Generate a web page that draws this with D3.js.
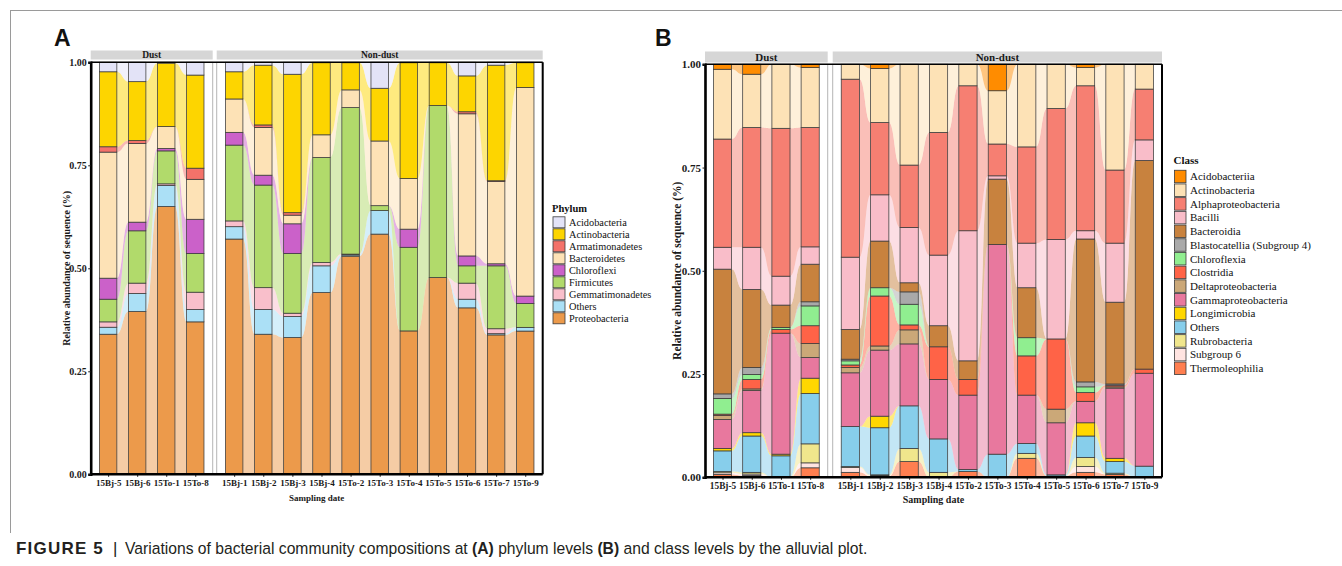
<!DOCTYPE html>
<html><head><meta charset="utf-8">
<script src="https://cdn.jsdelivr.net/npm/d3@7"></script>
<style>body{margin:0;background:#fff}</style>
</head><body>
<svg id="chart" width="1342" height="566"></svg>
<script>
// ---------------- DATA ----------------
const dustSamples = ["15Bj-5","15Bj-6","15To-1","15To-8"];
const nonDustSamples = ["15Bj-1","15Bj-2","15Bj-3","15Bj-4","15To-2","15To-3","15To-4","15To-5","15To-6","15To-7","15To-9"];
const facetNames = ["Dust","Non-dust"];
const yTicks = [0, 0.25, 0.5, 0.75, 1];

// Panel A: phylum level (sample order = dustSamples then nonDustSamples)
const phyla = ["Acidobacteria","Actinobacteria","Armatimonadetes","Bacteroidetes","Chloroflexi","Firmicutes","Gemmatimonadetes","Others","Proteobacteria"];
const phylumColors = ["#E3E3F7","#FDD500","#F4726A","#FDE2B6","#CB61C9","#B1DA6B","#F9BFCB","#ABE0F6","#EC9A4B"];
const acidobacteria    = [0.023,0.047,0.002,0.031, 0.023,0.007,0.029,0.001,0.001,0.063,0.001,0.001,0.033,0.007,0.001];
const actinobacteria   = [0.182,0.143,0.154,0.226, 0.066,0.145,0.336,0.175,0.066,0.128,0.281,0.104,0.087,0.281,0.060];
const armatimonadetes  = [0.013,0.007,0.000,0.027, 0.000,0.006,0.006,0.000,0.000,0.000,0.000,0.000,0.005,0.002,0.000];
const bacteroidetes    = [0.306,0.191,0.053,0.097, 0.081,0.116,0.021,0.055,0.043,0.157,0.123,0.000,0.345,0.200,0.507];
const chloroflexi      = [0.051,0.021,0.006,0.083, 0.031,0.024,0.072,0.000,0.000,0.000,0.044,0.000,0.024,0.005,0.018];
const firmicutes       = [0.055,0.127,0.080,0.094, 0.184,0.249,0.145,0.255,0.356,0.012,0.203,0.418,0.042,0.153,0.058];
const gemmatimonadetes = [0.013,0.025,0.004,0.042, 0.014,0.053,0.008,0.008,0.002,0.000,0.000,0.000,0.039,0.012,0.000];
const othersPhylum     = [0.017,0.044,0.051,0.030, 0.030,0.060,0.051,0.065,0.003,0.057,0.000,0.000,0.021,0.003,0.009];
const proteobacteria   = [0.340,0.395,0.650,0.370, 0.571,0.340,0.332,0.441,0.530,0.583,0.348,0.478,0.404,0.339,0.348];

// Panel B: class level
const classes = ["Acidobacteriia","Actinobacteria","Alphaproteobacteria","Bacilli","Bacteroidia","Blastocatellia (Subgroup 4)","Chloroflexia","Clostridia","Deltaproteobacteria","Gammaproteobacteria","Longimicrobia","Others","Rubrobacteria","Subgroup 6","Thermoleophilia"];
const classColors = ["#FF8C00","#FDE2B6","#F67F72","#F9BDC9","#C8823E","#A9A9A9","#90EE90","#FF6347","#CBA878","#E8789E","#FFD700","#87CEEB","#F0E68C","#FFE4E1","#FF7F50"];
const acidobacteriia      = [0.012,0.024,0.000,0.008, 0.000,0.010,0.000,0.000,0.000,0.064,0.000,0.000,0.008,0.000,0.000];
const actinobacteriaCls   = [0.169,0.129,0.155,0.145, 0.036,0.131,0.244,0.165,0.052,0.129,0.200,0.107,0.044,0.256,0.060];
const alphaproteobacteria = [0.262,0.290,0.358,0.289, 0.431,0.175,0.151,0.297,0.351,0.077,0.233,0.317,0.351,0.177,0.123];
const bacilli             = [0.053,0.102,0.070,0.042, 0.175,0.112,0.134,0.171,0.315,0.008,0.108,0.241,0.020,0.143,0.050];
const bacteroidia         = [0.302,0.189,0.054,0.091, 0.072,0.113,0.022,0.051,0.045,0.158,0.121,0.000,0.346,0.198,0.505];
const blastocatellia      = [0.011,0.017,0.000,0.010, 0.004,0.000,0.030,0.000,0.000,0.000,0.000,0.000,0.012,0.003,0.000];
const chloroflexia        = [0.038,0.012,0.005,0.048, 0.010,0.020,0.050,0.000,0.000,0.000,0.044,0.000,0.014,0.000,0.000];
const clostridia          = [0.003,0.023,0.009,0.043, 0.006,0.121,0.012,0.079,0.038,0.000,0.095,0.170,0.021,0.004,0.010];
const deltaproteobacteria = [0.010,0.004,0.000,0.034, 0.013,0.010,0.034,0.000,0.000,0.000,0.000,0.033,0.000,0.003,0.000];
const gammaproteobacteria = [0.070,0.102,0.293,0.050, 0.130,0.160,0.150,0.144,0.180,0.508,0.117,0.126,0.052,0.170,0.225];
const longimicrobia       = [0.006,0.008,0.004,0.037, 0.000,0.028,0.000,0.000,0.000,0.000,0.000,0.000,0.032,0.008,0.000];
const othersClass         = [0.050,0.088,0.052,0.122, 0.097,0.114,0.103,0.081,0.005,0.056,0.024,0.003,0.052,0.028,0.027];
const rubrobacteria       = [0.003,0.004,0.000,0.046, 0.002,0.002,0.032,0.012,0.000,0.000,0.012,0.000,0.022,0.003,0.000];
const subgroup6           = [0.004,0.004,0.000,0.012, 0.012,0.002,0.000,0.000,0.000,0.000,0.000,0.000,0.014,0.000,0.000];
const thermoleophilia     = [0.007,0.004,0.000,0.023, 0.012,0.002,0.038,0.000,0.014,0.000,0.046,0.003,0.012,0.007,0.000];

// ---------------- BUILD TABLES ----------------
const allSamples = dustSamples.concat(nonDustSamples);
const phylumSeries = [acidobacteria,actinobacteria,armatimonadetes,bacteroidetes,chloroflexi,firmicutes,gemmatimonadetes,othersPhylum,proteobacteria];
const classSeries = [acidobacteriia,actinobacteriaCls,alphaproteobacteria,bacilli,bacteroidia,blastocatellia,chloroflexia,clostridia,deltaproteobacteria,gammaproteobacteria,longimicrobia,othersClass,rubrobacteria,subgroup6,thermoleophilia];
function buildRows(keys, series) {
  return allSamples.map((s, i) => {
    const r = {sample: s, facet: i < dustSamples.length ? facetNames[0] : facetNames[1]};
    keys.forEach((k, j) => r[k] = series[j][i]);
    return r;
  });
}
const rowsA = buildRows(phyla, phylumSeries);
const rowsB = buildRows(classes, classSeries);

// ---------------- DRAW ----------------
const SERIF = "Liberation Serif, Times New Roman, serif";
const SANS = "Liberation Sans, Arial, sans-serif";
const svg = d3.select("#chart");

// figure frame
svg.append("line").attr("x1",10).attr("x2",1342).attr("y1",10.5).attr("y2",10.5).attr("stroke","#9a9a9a").attr("stroke-width",1);
svg.append("line").attr("x1",10.5).attr("x2",10.5).attr("y1",10).attr("y2",533).attr("stroke","#9a9a9a").attr("stroke-width",1);

function drawAlluvial(cfg) {
  const g = svg.append("g");
  const {keys, colors, rows, y, barFrac} = cfg;
  const color = d3.scaleOrdinal().domain(keys).range(colors);
  const stack = d3.stack().keys(keys.slice().reverse()).offset(d3.stackOffsetExpand);
  const top = y(1), bottom = y(0);

  cfg.facets.forEach(f => {
    const fRows = rows.filter(r => r.facet === f.name);
    const x = d3.scalePoint().domain(fRows.map(r => r.sample)).range([f.x0, f.x1]).padding(0.6);
    const bw = x.step() * barFrac;
    const series = stack(fRows);

    // strip
    g.append("rect").attr("x", f.x0).attr("y", cfg.stripTop).attr("width", f.x1 - f.x0)
      .attr("height", cfg.stripH).attr("fill", "#d6d6d6");
    g.append("text").attr("x", (f.x0 + f.x1) / 2).attr("y", cfg.stripTop + cfg.stripH / 2)
      .attr("dy", "0.35em").attr("text-anchor", "middle").style("font-family", SERIF)
      .attr("font-weight", "bold").attr("font-size", cfg.stripFont).attr("fill", "#1a1a1a").text(f.name);

    // panel border (thin grey)
    g.append("rect").attr("x", f.x0).attr("y", top).attr("width", f.x1 - f.x0).attr("height", bottom - top)
      .attr("fill", "none").attr("stroke", "#b5b5b5").attr("stroke-width", 1);

    // flows
    const flowG = g.append("g");
    series.forEach(s => {
      for (let i = 0; i < fRows.length - 1; i++) {
        const a = s[i], b = s[i + 1];
        if (a[1] - a[0] <= 0 && b[1] - b[0] <= 0) continue;
        const xa = x(fRows[i].sample) + bw / 2, xb = x(fRows[i + 1].sample) - bw / 2, xm = (xa + xb) / 2;
        const p = d3.path();
        p.moveTo(xa, y(a[1]));
        p.bezierCurveTo(xm, y(a[1]), xm, y(b[1]), xb, y(b[1]));
        p.lineTo(xb, y(b[0]));
        p.bezierCurveTo(xm, y(b[0]), xm, y(a[0]), xa, y(a[0]));
        p.closePath();
        flowG.append("path").attr("d", p.toString()).attr("fill", color(s.key)).attr("fill-opacity", 0.5);
      }
    });

    // strata (bars)
    const barG = g.append("g");
    series.forEach(s => {
      s.forEach((d, i) => {
        if (d[1] - d[0] <= 0) return;
        barG.append("rect").attr("x", x(fRows[i].sample) - bw / 2).attr("y", y(d[1]))
          .attr("width", bw).attr("height", y(d[0]) - y(d[1]))
          .attr("fill", color(s.key)).attr("stroke", "#3a3a3a").attr("stroke-width", 0.75);
      });
    });

    // x axis labels
    const ax = g.append("g").attr("transform", `translate(0,${bottom})`)
      .call(d3.axisBottom(x).tickSize(2.5).tickPadding(3));
    ax.select(".domain").remove();
    ax.attr("font-family", null).attr("font-size", null);
    ax.selectAll(".tick line").attr("stroke", "#222");
    ax.selectAll("text").style("font-family", SERIF).attr("font-weight", "bold")
      .attr("font-size", cfg.xFont).attr("fill", "#1a1a1a");
  });

  const left = cfg.facets[0].x0, right = cfg.facets[cfg.facets.length - 1].x1;
  // black frame
  g.append("line").attr("x1", left).attr("x2", right).attr("y1", top).attr("y2", top).attr("stroke", "#000").attr("stroke-width", 1.6);
  g.append("line").attr("x1", right).attr("x2", right).attr("y1", top).attr("y2", bottom).attr("stroke", "#000").attr("stroke-width", 2);
  g.append("line").attr("x1", left).attr("x2", right).attr("y1", bottom).attr("y2", bottom).attr("stroke", "#000").attr("stroke-width", 2.6);

  // y axis
  const ay = g.append("g").attr("transform", `translate(${left},0)`)
    .call(d3.axisLeft(y).tickValues(yTicks).tickFormat(d3.format(".2f")).tickSize(2.5).tickPadding(1.5));
  ay.attr("font-family", null).attr("font-size", null);
  ay.select(".domain").attr("stroke", "#000").attr("stroke-width", 2.6);
  ay.selectAll(".tick line").attr("stroke", "#222");
  ay.selectAll("text").style("font-family", SERIF).attr("font-weight", "bold")
    .attr("font-size", cfg.yFont).attr("fill", "#1a1a1a");

  // axis titles
  g.append("text").attr("transform", `translate(${cfg.yTitleX},${(top + bottom) / 2}) rotate(-90)`)
    .attr("text-anchor", "middle").attr("dy", "0.35em").style("font-family", SERIF).attr("font-weight", "bold")
    .attr("font-size", cfg.yTitleFont).attr("fill", "#1a1a1a").text("Relative abundance of sequence (%)");
  g.append("text").attr("x", (left + right) / 2).attr("y", cfg.xTitleY).attr("dy", "0.35em")
    .attr("text-anchor", "middle").style("font-family", SERIF).attr("font-weight", "bold")
    .attr("font-size", cfg.xTitleFont).attr("fill", "#1a1a1a").text("Sampling date");

  // panel letter
  g.append("text").attr("x", cfg.letterX).attr("y", 46).style("font-family", SANS).attr("font-weight", "bold")
    .attr("font-size", 23).attr("fill", "#111").text(cfg.letter);

  // legend
  const L = cfg.legend;
  const lg = g.append("g");
  lg.append("text").attr("x", L.x - 1).attr("y", L.titleY).attr("dy", "0.35em").style("font-family", SERIF)
    .attr("font-weight", "bold").attr("font-size", L.titleFont).attr("fill", "#111").text(L.title);
  keys.forEach((k, i) => {
    const cy = L.y0 + i * L.step;
    lg.append("rect").attr("x", L.x).attr("y", cy - L.box / 2).attr("width", L.boxW).attr("height", L.box)
      .attr("fill", color(k)).attr("stroke", "#3a3a3a").attr("stroke-width", 0.8);
    lg.append("text").attr("x", L.x + L.boxW + 4).attr("y", cy).attr("dy", "0.35em").style("font-family", SERIF)
      .attr("font-size", L.font).attr("fill", "#111").text(k);
  });
}

drawAlluvial({
  letter: "A", letterX: 54,
  keys: phyla, colors: phylumColors, rows: rowsA,
  y: d3.scaleLinear().domain([0, 1]).range([474.3, 62.3]),
  facets: [{name: facetNames[0], x0: 90.7, x1: 212.7}, {name: facetNames[1], x0: 216.7, x1: 542.7}],
  barFrac: 0.6, stripTop: 50.5, stripH: 9, stripFont: 9.5,
  xFont: 9, yFont: 10, yTitleX: 66, yTitleFont: 10, xTitleY: 498, xTitleFont: 9,
  legend: {title: "Phylum", x: 553, titleY: 208, y0: 222.3, step: 12, box: 11, boxW: 12, font: 10.3, titleFont: 10.5}
});

drawAlluvial({
  letter: "B", letterX: 655,
  keys: classes, colors: classColors, rows: rowsB,
  y: d3.scaleLinear().domain([0, 1]).range([477.3, 64.3]),
  facets: [{name: facetNames[0], x0: 705, x1: 827.7}, {name: facetNames[1], x0: 832.7, x1: 1162}],
  barFrac: 0.62, stripTop: 51.5, stripH: 11, stripFont: 11,
  xFont: 9.3, yFont: 11, yTitleX: 677, yTitleFont: 11.5, xTitleY: 499, xTitleFont: 10,
  legend: {title: "Class", x: 1174.5, titleY: 160, y0: 176.5, step: 13.7, box: 12.5, boxW: 11.5, font: 11, titleFont: 11}
});

// caption
const capY = 554;
svg.append("text").attr("x", 16).attr("y", capY).style("font-family", SANS).attr("font-weight", "bold")
  .attr("font-size", 17).attr("letter-spacing", 1.2).attr("fill", "#231F20").text("FIGURE 5");
svg.append("text").attr("x", 113).attr("y", capY).style("font-family", SANS)
  .attr("font-size", 17).attr("fill", "#231F20").text("|");
const capG = svg.append("g");
const cap = capG.append("text").attr("x", 0).attr("y", 0).style("font-family", SANS)
  .attr("font-size", 16.5).attr("fill", "#231F20");
cap.append("tspan").text("Variations of bacterial community compositions at ");
cap.append("tspan").attr("font-weight", "bold").text("(A)");
cap.append("tspan").text(" phylum levels ");
cap.append("tspan").attr("font-weight", "bold").text("(B)");
cap.append("tspan").text(" and class levels by the alluvial plot.");
const capW = cap.node().getComputedTextLength() || 880;
capG.attr("transform", `translate(125,${capY}) scale(${743 / capW},1)`);
</script>
</body></html>
